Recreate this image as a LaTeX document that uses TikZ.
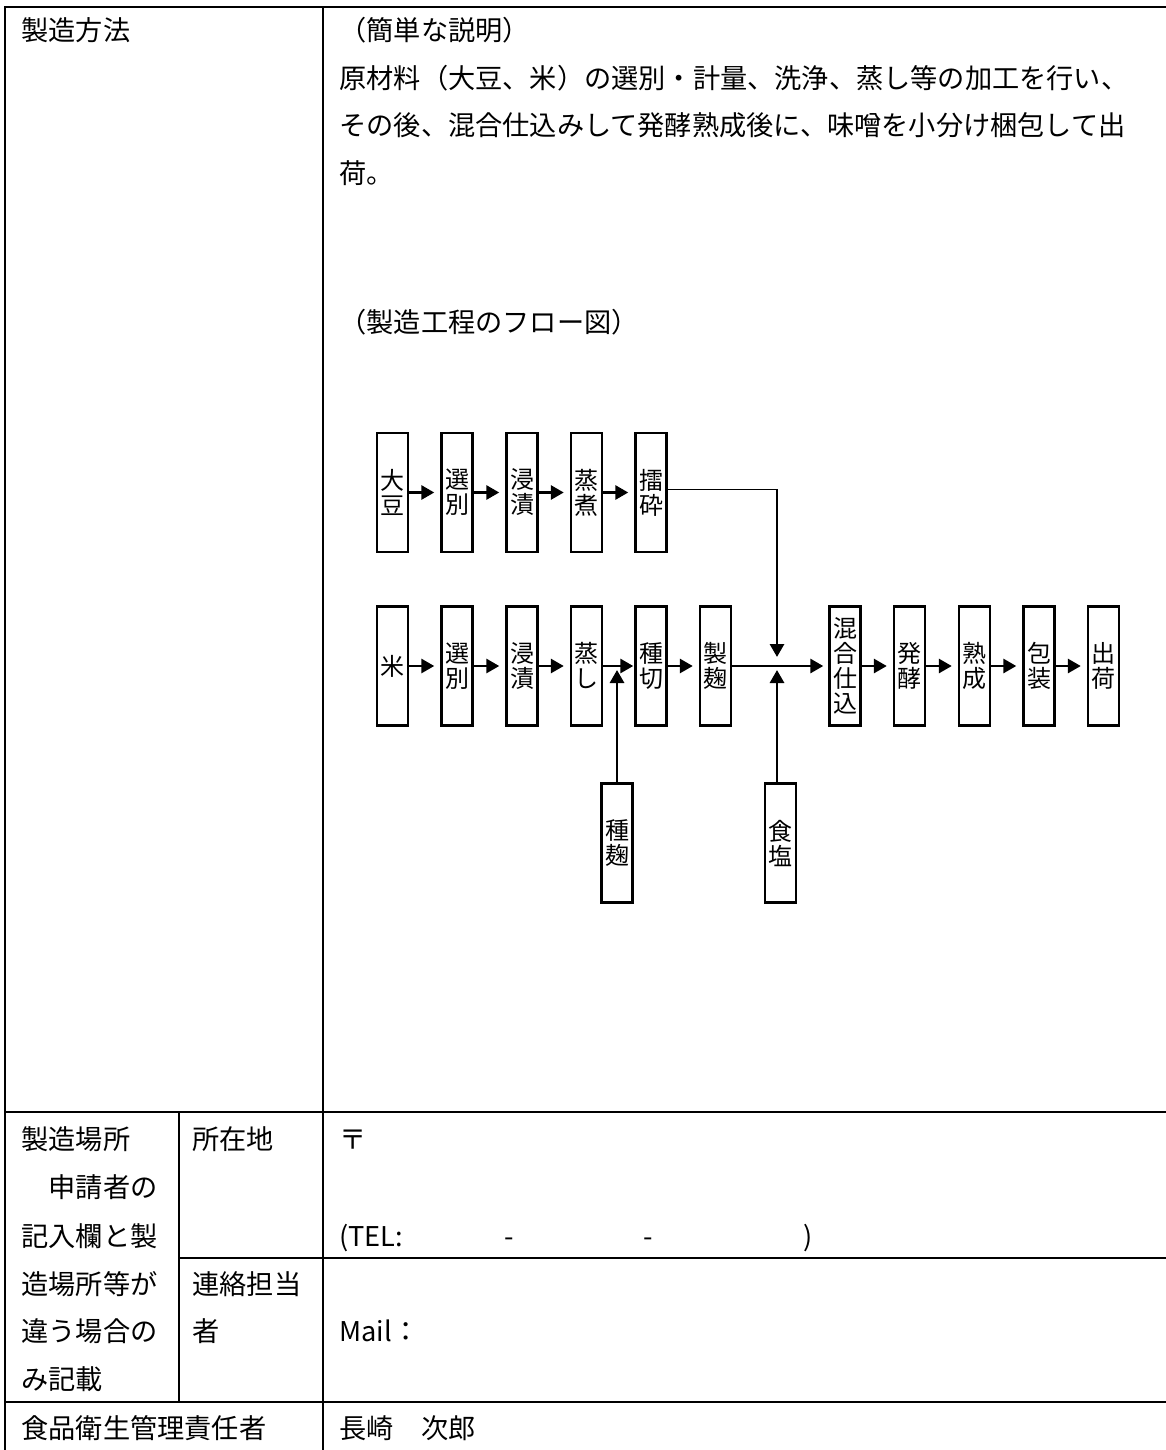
\documentclass[tikz,border=0pt]{standalone}
\usepackage{fontspec}
\setmainfont{Noto Sans CJK JP}
\usetikzlibrary{arrows.meta}

\tikzset{
  gridline/.style={line width=1.15pt,line cap=rect},
  cell/.style={anchor=west,inner sep=0pt,text height=11.9pt,text depth=1.6pt,font=\fontsize{13.6pt}{16pt}\selectfont},
  proc/.style={draw,line width=1.2pt,minimum width=15.5pt,minimum height=59.5pt,inner sep=0pt,align=center,font=\fontsize{12pt}{12.5pt}\selectfont},
  flow/.style={line width=1.45pt,-{Triangle[length=6.5pt,width=7pt]},shorten >=3pt}
}

\begin{document}
\begin{tikzpicture}[x=0.5pt,y=-0.5pt]
\useasboundingbox (0,0) rectangle (1166,1450);
\draw[gridline] (1170,7) -- (5,7) -- (5,1454);
\draw[gridline] (323,7) -- (323,1454);
\draw[gridline] (5,1112) -- (1170,1112);
\draw[gridline] (179,1112) -- (179,1402);
\draw[gridline] (179,1258) -- (1170,1258);
\draw[gridline] (5,1402) -- (1170,1402);
\node[cell] (method) at (21,30) {製造方法};
\node[cell] (brief) at (339,30) {（簡単な説明）};
\node[cell] (briefa) at (339,78) {原材料（大豆、米）の選別・計量、洗浄、蒸し等の加工を行い、};
\node[cell] (briefb) at (339,125) {その後、混合仕込みして発酵熟成後に、味噌を小分け梱包して出};
\node[cell] (briefc) at (339,173) {荷。};
\node[cell] (flowtitle) at (339,322) {（製造工程のフロー図）};
\node[cell] (placea) at (21,1139) {製造場所};
\node[cell] (placeb) at (21,1187) {　申請者の};
\node[cell] (placec) at (21,1236) {記入欄と製};
\node[cell] (placed) at (21,1284) {造場所等が};
\node[cell] (placee) at (21,1331) {違う場合の};
\node[cell] (placef) at (21,1379) {み記載};
\node[cell] (address) at (192,1139) {所在地};
\node[cell] (contacta) at (192,1284) {連絡担当};
\node[cell] (contactb) at (192,1331) {者};
\node[cell] (postal) at (339,1139) {〒};
\node[cell] (tel) at (339,1236) {(TEL:};
\node[cell,anchor=center] (dasha) at (509,1236) {-};
\node[cell,anchor=center] (dashb) at (648,1236) {-};
\node[cell,anchor=center] (telend) at (808,1236) {)};
\node[cell] (mail) at (339,1331) {Mail：};
\node[cell] (hygiene) at (21,1428) {食品衛生管理責任者};
\node[cell] (manager) at (339,1428) {長崎　次郎};
\node[proc] (daizu) at (392.5,492.5) {大\\豆};
\node[proc] (dsenbetsu) at (457,492.5) {選\\別};
\node[proc] (dshinseki) at (522,492.5) {浸\\漬};
\node[proc] (nishaku) at (586.5,492.5) {蒸\\煮};
\node[proc] (maisai) at (651,492.5) {擂\\砕};
\node[proc] (kome) at (392.5,666) {米};
\node[proc] (ksenbetsu) at (457,666) {選\\別};
\node[proc] (kshinseki) at (522,666) {浸\\漬};
\node[proc] (mushi) at (586.5,666) {蒸\\し};
\node[proc] (tanegiri) at (651,666) {種\\切};
\node[proc] (seikiku) at (715.5,666) {製\\麹};
\node[proc] (shikomi) at (845,666) {混\\合\\仕\\込};
\node[proc] (hakko) at (909.5,666) {発\\酵};
\node[proc] (jukusei) at (974.5,666) {熟\\成};
\node[proc] (hoso) at (1039,666) {包\\装};
\node[proc] (shukka) at (1103.5,666) {出\\荷};
\node[proc] (tanekoji) at (617,843) {種\\麹};
\node[proc] (shokuen) at (780.5,843) {食\\塩};
\coordinate (turn) at (777,489);
\coordinate (mix) at (777,666);
\draw[flow] (daizu) -- (dsenbetsu);
\draw[flow] (dsenbetsu) -- (dshinseki);
\draw[flow] (dshinseki) -- (nishaku);
\draw[flow] (nishaku) -- (maisai);
\draw[flow] (kome) -- (ksenbetsu);
\draw[flow] (ksenbetsu) -- (kshinseki);
\draw[flow] (kshinseki) -- (mushi);
\draw[flow,shorten >=0.5pt] (mushi) -- (tanegiri);
\draw[flow] (tanegiri) -- (seikiku);
\draw[flow,shorten >=2.5pt] (seikiku) -- (shikomi);
\draw[flow] (shikomi) -- (hakko);
\draw[flow] (hakko) -- (jukusei);
\draw[flow] (jukusei) -- (hoso);
\draw[flow] (hoso) -- (shukka);
\draw[line width=0.5pt] (maisai.east |- turn) -- (turn);
\draw[flow,shorten >=4.5pt] (turn) -- (mix);
\draw[flow,shorten >=2pt] (shokuen.north -| mix) -- (mix);
\draw[flow,shorten >=2pt] (tanekoji) -- (tanekoji |- mushi);
\end{tikzpicture}
\end{document}
